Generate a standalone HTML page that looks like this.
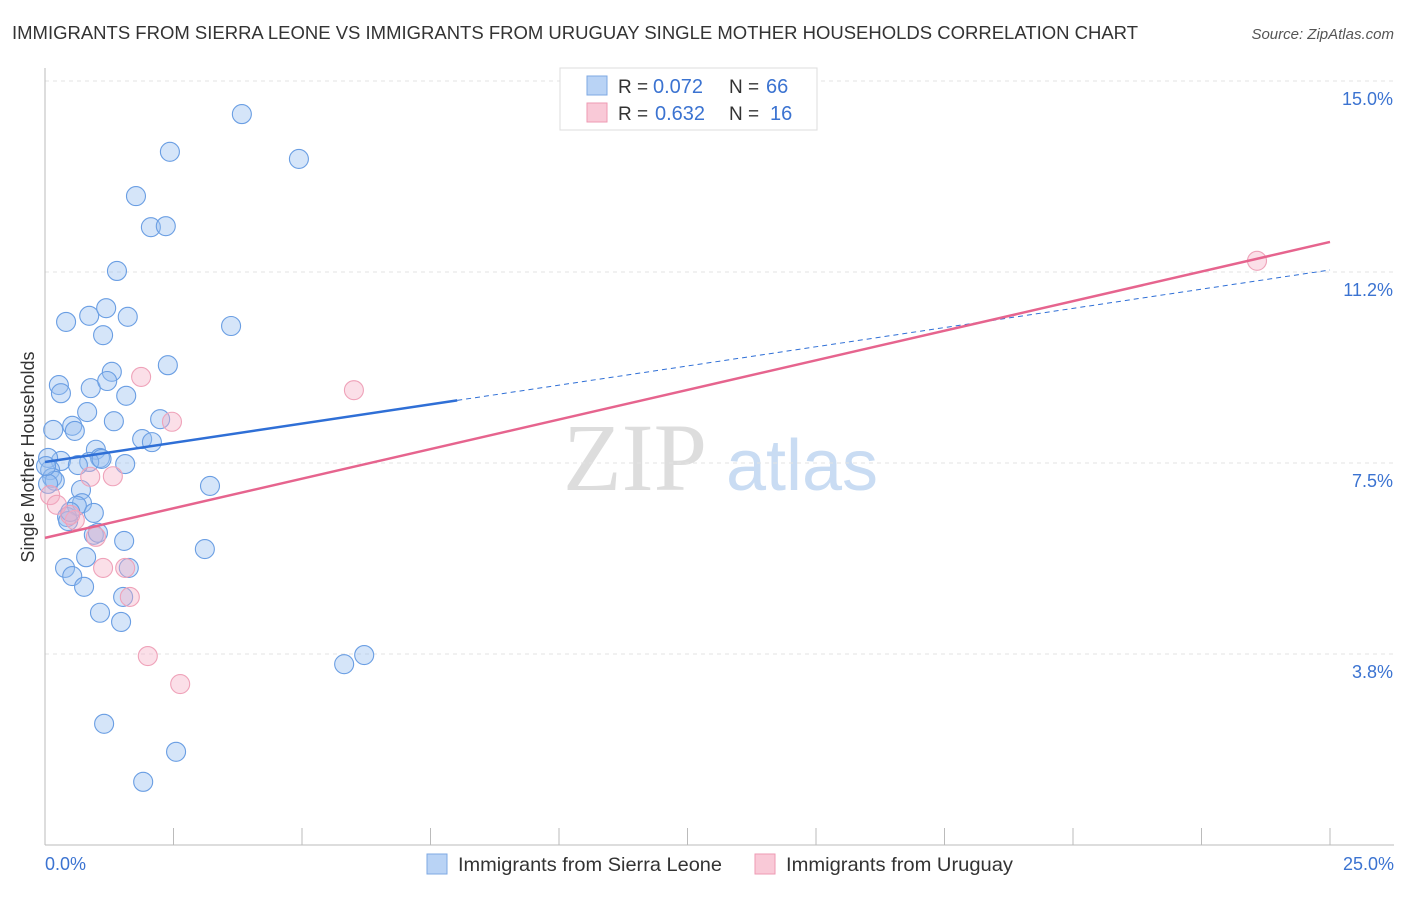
<!DOCTYPE html>
<html><head><meta charset="utf-8"><style>
body{margin:0;background:#fff;font-family:"Liberation Sans",sans-serif;}
</style></head><body>
<svg id="c" width="1406" height="892" xmlns="http://www.w3.org/2000/svg" style="font-family:'Liberation Sans',sans-serif">
<text x="12" y="39" font-size="18.5" fill="#333" textLength="1126" lengthAdjust="spacingAndGlyphs">IMMIGRANTS FROM SIERRA LEONE VS IMMIGRANTS FROM URUGUAY SINGLE MOTHER HOUSEHOLDS CORRELATION CHART</text>
<text x="1394" y="39" font-size="15" fill="#555" font-style="italic" text-anchor="end">Source: ZipAtlas.com</text>
<text x="635" y="490" font-size="96" fill="#ddd" font-family="'Liberation Serif',serif" text-anchor="middle">ZIP</text>
<text x="802" y="490" font-size="72" fill="#c9dcf3" text-anchor="middle">atlas</text>
<g id="grid"></g><g id="axes"></g><g id="pts"></g><g id="lines"></g>
<text transform="translate(34,457) rotate(-90)" font-size="18" fill="#333" text-anchor="middle">Single Mother Households</text>
<text x="45" y="870" font-size="18" fill="#3b73d1">0.0%</text>
<text x="1394" y="870" font-size="18" fill="#3b73d1" text-anchor="end">25.0%</text>
<g>
<rect x="560" y="68" width="257" height="62" fill="#fff" stroke="#ddd"/>
<rect x="587" y="76" width="20" height="19" fill="#b9d3f5" stroke="#7ea8e3"/>
<rect x="587" y="103" width="20" height="19" fill="#f9c9d7" stroke="#ee9ab3"/>
<text x="618" y="93" font-size="19" fill="#333">R =</text>
<text x="653" y="93" font-size="20" fill="#3b73d1">0.072</text>
<text x="729" y="93" font-size="19" fill="#333">N =</text>
<text x="766" y="93" font-size="20" fill="#3b73d1">66</text>
<text x="618" y="120" font-size="19" fill="#333">R =</text>
<text x="655" y="120" font-size="20" fill="#3b73d1">0.632</text>
<text x="729" y="120" font-size="19" fill="#333">N =</text>
<text x="770" y="120" font-size="20" fill="#3b73d1">16</text>
</g>
<g>
<rect x="427" y="854" width="20" height="20" fill="#b9d3f5" stroke="#7ea8e3"/>
<text x="458" y="871" font-size="19.5" fill="#333" textLength="264" lengthAdjust="spacingAndGlyphs">Immigrants from Sierra Leone</text>
<rect x="755" y="854" width="20" height="20" fill="#f9c9d7" stroke="#ee9ab3"/>
<text x="786" y="871" font-size="19.5" fill="#333" textLength="227" lengthAdjust="spacingAndGlyphs">Immigrants from Uruguay</text>
</g>
</svg>
<script>
const yTicks=[3.75,7.5,11.25,15];
const yTickLabels=["3.8%","7.5%","11.2%","15.0%"];
const blueX=[3.83,2.43,4.94,1.77,2.06,2.35,1.40,0.41,0.86,1.19,1.61,3.62,1.13,2.39,1.30,0.27,0.31,0.89,1.21,1.58,0.82,1.34,2.24,0.16,0.53,0.58,1.89,2.08,0.99,1.07,0.31,0.86,1.56,0.06,0.64,0.10,0.14,0.19,0.06,3.21,0.70,0.72,0.62,0.95,0.43,0.45,0.95,1.54,3.11,0.80,0.39,0.53,1.63,0.76,1.52,1.07,1.48,5.82,6.21,1.15,2.55,1.91,0.02,0.49,1.03,1.10];
const blueY=[14.35,13.61,13.47,12.74,12.13,12.15,11.27,10.27,10.39,10.54,10.37,10.19,10.01,9.42,9.29,9.03,8.87,8.97,9.11,8.82,8.50,8.32,8.36,8.15,8.23,8.13,7.97,7.91,7.76,7.60,7.54,7.52,7.48,7.60,7.46,7.36,7.21,7.15,7.09,7.05,6.97,6.71,6.66,6.52,6.44,6.36,6.09,5.97,5.81,5.65,5.44,5.28,5.44,5.07,4.87,4.56,4.38,3.55,3.73,2.38,1.83,1.24,7.44,6.54,6.13,7.58];
const pinkX=[23.58,6.01,1.87,2.47,0.88,1.32,0.10,0.23,0.58,0.99,1.13,1.56,1.65,2.00,2.63,0.49];
const pinkY=[11.47,8.93,9.19,8.31,7.23,7.24,6.87,6.68,6.38,6.05,5.44,5.44,4.87,3.71,3.16,6.48];
const blueTrend=[7.52,11.29];
const blueSolidEnd=8.02;
const pinkTrend=[6.03,11.84];
const NS="http://www.w3.org/2000/svg";
const sx=v=>45+v/25*1285, sy=v=>845-v/3.75*191;
function mk(tag,attrs,parent){const e=document.createElementNS(NS,tag);for(const k in attrs)e.setAttribute(k,attrs[k]);document.getElementById(parent).appendChild(e);return e;}
yTicks.forEach((t,i)=>{
 const g=mk('line',{x1:45,x2:1394,y1:sy(t),y2:sy(t),stroke:'#e3e3e3','stroke-dasharray':'4,4'},'grid');
 
 
 const tx=mk('text',{x:1393,y:sy(t)+24,'font-size':18,fill:'#3b73d1','text-anchor':'end'},'grid');
 tx.textContent=yTickLabels[i];
 
 
});
const ax=mk('line',{x1:45,x2:45,y1:68,y2:845,stroke:'#bbb'},'axes');


const bx=mk('line',{x1:45,x2:1394,y1:845,y2:845,stroke:'#bbb'},'axes');


for(let i=0;i<=10;i++){const t=mk('line',{x1:sx(i*2.5),x2:sx(i*2.5),y1:828,y2:845,stroke:'#bbb'},'axes');
 
 }
blueX.forEach((x,i)=>{const c=mk('circle',{cx:sx(x),cy:sy(blueY[i]),r:9.5,fill:'rgba(150,190,240,0.4)',stroke:'#6a9ee3','stroke-width':1.1},'pts');
 
 });
pinkX.forEach((x,i)=>{const c=mk('circle',{cx:sx(x),cy:sy(pinkY[i]),r:9.5,fill:'rgba(245,175,197,0.4)',stroke:'#efa2b9','stroke-width':1.1},'pts');
 
 });
const by=x=>blueTrend[0]+(blueTrend[1]-blueTrend[0])*x/25;
const l1=mk('line',{x1:sx(0),y1:sy(by(0)),x2:sx(blueSolidEnd),y2:sy(by(blueSolidEnd)),stroke:'#2f6fd6','stroke-width':2.5},'lines');


const l2=mk('line',{x1:sx(blueSolidEnd),y1:sy(by(blueSolidEnd)),x2:sx(25),y2:sy(by(25)),stroke:'#2f6fd6','stroke-width':1,'stroke-dasharray':'5,4'},'lines');


const l3=mk('line',{x1:sx(0),y1:sy(pinkTrend[0]),x2:sx(25),y2:sy(pinkTrend[1]),stroke:'#e6648e','stroke-width':2.5},'lines');


</script>
</body></html>
